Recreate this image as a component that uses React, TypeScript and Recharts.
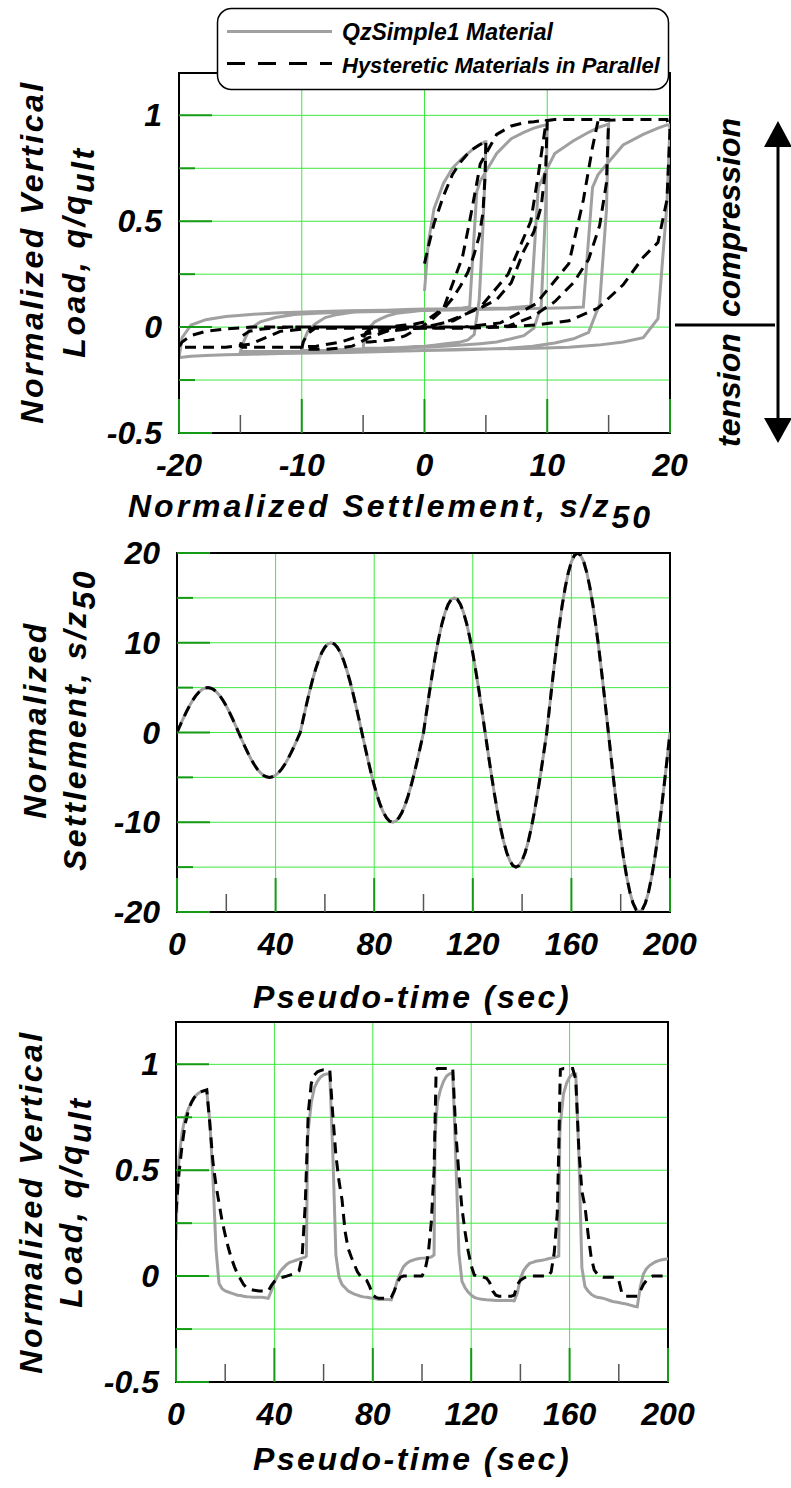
import React from 'react';
import { LineChart, Line, XAxis, YAxis, CartesianGrid, ReferenceArea } from 'recharts';

// pseudo-time (sec), one row per sample; extra samples sit on the steep jumps
const time = [
  0, 0.5, 1.25, 2.5, 3.75, 5, 6.25, 7.5, 8.75, 10, 11.25, 12.5, 13.75, 15, 16.25, 17.5, 18.75, 20, 21.25, 22.5,
  23.75, 25, 26.25, 27.5, 28.75, 30, 31.25, 32.5, 33.75, 35, 36.25, 37.5, 38.75, 40, 41.25, 42.5, 43.75, 45, 46.25, 47.5, 48.75,
  50, 51.25, 52.5, 53.0, 53.5, 53.75, 55, 56.25, 57.5, 58.75, 60, 61.25, 62.5, 63.75, 65, 66.25, 67.5, 68.75, 70, 71.25,
  72.5, 73.75, 75, 76.25, 77.5, 78.75, 80, 81.25, 82.5, 83.75, 85, 86.25, 87.5, 88.75, 90, 91.25, 92.5, 93.75, 95, 96.25, 97.5, 98.75,
  100, 101.25, 102.5, 103.75, 104.9, 105.3, 105.75, 106.25, 107.5, 108.75, 110, 111.25, 112.5, 113.75, 115, 116.25, 117.5, 118.75, 120, 121.25,
  122.5, 123.75, 125, 126.25, 127.5, 128.75, 130, 131.25, 132.5, 133.75, 135, 136.25, 137.5, 138.75, 140, 141.25, 142.5, 143.75, 145, 146.25, 147.5, 148.75,
  150, 151.25, 152.5, 153.75, 155, 155.6, 156.0, 156.25, 157.5, 158.75, 160, 161.25, 162.5, 163.75, 165, 166.25, 167.5, 168.75, 170, 171.25,
  172.5, 173.75, 175, 176.25, 177.5, 178.75, 180, 181.25, 182.5, 183.75, 185, 186.25, 187.5, 188.75, 190, 191.25, 192.5, 193.75, 195, 196.25, 197.5, 198.75, 200,
];

// normalized settlement s/z50
const settlement = [
  0, 0.31, 0.78, 1.55, 2.27, 2.94, 3.54, 4.05, 4.46, 4.76, 4.94, 5, 4.94, 4.76, 4.46, 4.05, 3.54, 2.94, 2.27, 1.55,
  0.78, 0, -0.78, -1.55, -2.27, -2.94, -3.54, -4.05, -4.46, -4.76, -4.94, -5, -4.94, -4.76, -4.46, -4.05, -3.54, -2.94, -2.27, -1.55, -0.78,
  0, 1.56, 3.09, 3.68, 4.26, 4.54, 5.88, 7.07, 8.09, 8.91, 9.51, 9.88, 10, 9.88, 9.51, 8.91, 8.09, 7.07, 5.88, 4.54,
  3.09, 1.56, 0, -1.56, -3.09, -4.54, -5.88, -7.07, -8.09, -8.91, -9.51, -9.88, -10, -9.88, -9.51, -8.91, -8.09, -7.07, -5.88, -4.54, -3.09, -1.56,
  0, 2.35, 4.64, 6.81, 8.66, 9.27, 9.92, 10.61, 12.14, 13.37, 14.27, 14.82, 15, 14.82, 14.27, 13.37, 12.14, 10.61, 8.82, 6.81,
  4.64, 2.35, 0, -2.35, -4.64, -6.81, -8.82, -10.61, -12.14, -13.37, -14.27, -14.82, -15, -14.82, -14.27, -13.37, -12.14, -10.61, -8.82, -6.81, -4.64, -2.35,
  0, 3.13, 6.18, 9.08, 11.76, 12.94, 13.69, 14.14, 16.18, 17.82, 19.02, 19.75, 20, 19.75, 19.02, 17.82, 16.18, 14.14, 11.76, 9.08,
  6.18, 3.13, 0, -3.13, -6.18, -9.08, -11.76, -14.14, -16.18, -17.82, -19.02, -19.75, -20, -19.75, -19.02, -17.82, -16.18, -14.14, -11.76, -9.08, -6.18, -3.13, 0,
];

// q/qult, QzSimple1 material
const qzLoad = [
  0.17, 0.4, 0.56, 0.68, 0.75, 0.79, 0.82, 0.845, 0.86, 0.87, 0.875, 0.875, 0.73, 0.47, 0.13, -0.035, -0.06, -0.07, -0.075, -0.08,
  -0.085, -0.09, -0.092, -0.095, -0.097, -0.098, -0.1, -0.1, -0.1, -0.1, -0.102, -0.105, -0.07, -0.03, 0, 0.025, 0.04, 0.055, 0.065, 0.07, 0.075,
  0.08, 0.085, 0.09, 0.095, 0.64, 0.69, 0.82, 0.89, 0.92, 0.94, 0.95, 0.955, 0.955, 0.58, 0.1, -0.005, -0.04, -0.055, -0.07, -0.078,
  -0.085, -0.09, -0.095, -0.098, -0.1, -0.102, -0.105, -0.107, -0.11, -0.11, -0.11, -0.11, -0.112, -0.07, -0.02, 0.015, 0.045, 0.06, 0.07, 0.075, 0.08, 0.083,
  0.085, 0.086, 0.088, 0.09, 0.1, 0.66, 0.74, 0.82, 0.88, 0.92, 0.945, 0.955, 0.96, 0.55, 0.11, -0.025, -0.055, -0.075, -0.09, -0.1,
  -0.105, -0.108, -0.11, -0.112, -0.113, -0.114, -0.115, -0.115, -0.115, -0.115, -0.115, -0.115, -0.117, -0.08, -0.01, 0.025, 0.045, 0.06, 0.065, 0.07, 0.073, 0.075,
  0.078, 0.082, 0.085, 0.088, 0.092, 0.095, 0.66, 0.72, 0.86, 0.91, 0.94, 0.955, 0.955, 0.58, 0.04, -0.05, -0.07, -0.085, -0.095, -0.1,
  -0.102, -0.105, -0.11, -0.115, -0.12, -0.122, -0.125, -0.128, -0.13, -0.134, -0.138, -0.142, -0.145, -0.05, 0.01, 0.035, 0.05, 0.06, 0.068, 0.073, 0.077, 0.08, 0.082,
];

// q/qult, hysteretic materials in parallel
const hystLoad = [
  0.3, 0.38, 0.49, 0.62, 0.72, 0.78, 0.82, 0.845, 0.86, 0.87, 0.875, 0.88, 0.72, 0.54, 0.43, 0.345, 0.26, 0.195, 0.135, 0.085,
  0.045, 0.01, -0.015, -0.04, -0.055, -0.062, -0.066, -0.068, -0.07, -0.07, -0.07, -0.07, -0.045, -0.025, -0.015, -0.008, -0.004, 0, 0.005, 0.01, 0.015,
  0.025, 0.09, 0.33, 0.5, 0.68, 0.77, 0.91, 0.95, 0.965, 0.97, 0.975, 0.975, 0.975, 0.76, 0.57, 0.45, 0.36, 0.21, 0.13, 0.09,
  0.055, 0.02, 0, -0.01, -0.02, -0.05, -0.09, -0.1, -0.105, -0.105, -0.105, -0.105, -0.1, -0.07, -0.03, -0.005, 0, 0, 0, 0, 0, 0,
  0, 0.03, 0.1, 0.25, 0.5, 0.72, 0.975, 0.98, 0.98, 0.98, 0.98, 0.98, 0.98, 0.68, 0.48, 0.32, 0.21, 0.12, 0.05, 0.005,
  0, 0, -0.005, -0.01, -0.03, -0.07, -0.09, -0.095, -0.095, -0.095, -0.095, -0.095, -0.09, -0.04, -0.02, -0.01, -0.003, 0, 0, 0, 0, 0,
  0, 0, 0.02, 0.11, 0.3, 0.6, 0.85, 0.975, 0.98, 0.98, 0.98, 0.98, 0.93, 0.6, 0.4, 0.33, 0.2, 0.09, 0.03, 0.01,
  0, -0.005, -0.005, -0.005, -0.005, -0.005, -0.02, -0.08, -0.095, -0.095, -0.095, -0.095, -0.095, -0.07, -0.04, -0.02, -0.008, 0, 0, 0, 0, 0, 0,
];

const loadTicks = [-0.5, -0.25, 0, 0.25, 0.5, 0.75, 1];
const loadLabels = [-0.5, 0, 0.5, 1];
const loadGrid = [-0.25, 0, 0.25, 0.5, 0.75, 1];
const settleTicks = [-20, -15, -10, -5, 0, 5, 10, 15, 20];
const settleLabels = [-20, -10, 0, 10, 20];
const settleGridX = [-10, 0, 10];
const settleGridY = [-15, -10, -5, 0, 5, 10, 15];
const timeTicks = [0, 20, 40, 60, 80, 100, 120, 140, 160, 180, 200];
const timeLabels = [0, 40, 80, 120, 160, 200];
const timeGrid = [40, 80, 120, 160];

const rows = time.map((t, i) => ({ t, s: settlement[i], qz: qzLoad[i], hyst: hystLoad[i] }));

const W = 791;
const H = 1488;
const GRAY = '#a0a0a0';
const GRID = '#3fe83f';
const TICK_GREEN = '#149a14';
const FONT = '"Liberation Sans", Arial, Helvetica, sans-serif';
const tickStyle = { fontFamily: FONT, fontSize: 32, fontWeight: 700, fontStyle: 'italic' as const };
const titleStyle = { ...tickStyle, letterSpacing: 2.5 };
const legendStyle = { fontFamily: FONT, fontSize: 23, fontWeight: 700, fontStyle: 'italic' as const };

const makeXTick = (labels: number[]) => (p: any) => {
  const { x, y, payload } = p;
  const major = labels.includes(payload.value);
  return (
    <g>
      <line x1={x} x2={x} y1={y} y2={y - (major ? 34 : 18)} stroke={major ? TICK_GREEN : '#555'} strokeWidth={major ? 2 : 1.5} />
      {major ? (
        <text x={x} y={y + 43} textAnchor="middle" fill="#000" style={tickStyle}>{String(payload.value)}</text>
      ) : null}
    </g>
  );
};

const makeYTick = (labels: number[]) => (p: any) => {
  const { x, y, payload } = p;
  const major = labels.includes(payload.value);
  return (
    <g>
      <line x1={x} x2={x + (major ? 33 : 16)} y1={y} y2={y} stroke={TICK_GREEN} strokeWidth={2} />
      {major ? (
        <text x={x - 17} y={y + 11} textAnchor="end" fill="#000" style={tickStyle}>{String(payload.value)}</text>
      ) : null}
    </g>
  );
};

const LoadTitle = ({ midY, colA, colB }: any) => (
  <g fill="#000" style={titleStyle}>
    <text transform={`translate(${colA},${midY}) rotate(-90)`} textAnchor="middle">Normalized Vertical</text>
    <text transform={`translate(${colB},${midY}) rotate(-90)`} textAnchor="middle">
      Load, q/q<tspan dy={9}>ult</tspan>
    </text>
  </g>
);

const SettleYTitle = () => (
  <g fill="#000" style={titleStyle}>
    <text transform="translate(46,720) rotate(-90)" textAnchor="middle">Normalized</text>
    <text transform="translate(86,720) rotate(-90)" textAnchor="middle">
      Settlement, s/z<tspan dy={9}>50</tspan>
    </text>
  </g>
);

const SettleXTitle = () => (
  <text x={128} y={517} fill="#000" style={{ ...titleStyle, letterSpacing: 3 }}>
    Normalized Settlement, s/z<tspan dy={11}>50</tspan>
  </text>
);

const TimeTitle = ({ baseLine }: any) => (
  <text x={412} y={baseLine} textAnchor="middle" fill="#000" style={titleStyle}>Pseudo-time (sec)</text>
);

const axisLine = { stroke: '#000', strokeWidth: 2 };

function Panel(props: any) {
  const { top, bottom, left, right, xKey, xDomain, xTicks, xLabels, xGrid, yDomain, yTicks, yLabels, yGrid, lines, xTitle, yTitle } = props;
  return (
    <div style={{ position: 'absolute', left: 0, top: 0 }}>
      <LineChart width={W} height={H} data={rows} margin={{ top, right: W - right, bottom: H - bottom - 100, left: 0 }}>
        <CartesianGrid stroke={GRID} strokeWidth={1} horizontalValues={yGrid} verticalValues={xGrid} />
        <XAxis
          dataKey={xKey}
          type="number"
          domain={xDomain}
          ticks={xTicks}
          interval={0}
          allowDataOverflow
          height={100}
          tickSize={0}
          tickMargin={0}
          tickLine={false}
          axisLine={axisLine}
          tick={makeXTick(xLabels)}
          label={xTitle}
        />
        <YAxis
          type="number"
          domain={yDomain}
          ticks={yTicks}
          interval={0}
          allowDataOverflow
          width={left}
          tickSize={0}
          tickMargin={0}
          tickLine={false}
          axisLine={axisLine}
          tick={makeYTick(yLabels)}
          label={yTitle}
        />
        <ReferenceArea x1={xDomain[0]} x2={xDomain[1]} y1={yDomain[0]} y2={yDomain[1]} fill="none" stroke="#000" strokeWidth={2} />
        {lines.map((l: any, i: number) => (
          <Line
            key={i}
            name={l.name}
            dataKey={l.key}
            type="linear"
            stroke={l.color}
            strokeWidth={3}
            strokeDasharray={l.dash}
            dot={false}
            activeDot={false}
            isAnimationActive={false}
          />
        ))}
      </LineChart>
    </div>
  );
}

const qzSeries = { name: 'QzSimple1 Material', color: GRAY };
const hystSeries = { name: 'Hysteretic Materials in Parallel', color: '#000', dash: '11 7' };

export default function App() {
  return (
    <div style={{ position: 'absolute', left: 0, top: 0, width: W, height: H, background: '#fff' }}>
      <Panel
        top={73}
        bottom={433}
        left={179}
        right={670}
        xKey="s"
        xDomain={[-20, 20]}
        xTicks={settleTicks}
        xLabels={settleLabels}
        xGrid={settleGridX}
        yDomain={[-0.5, 1.2]}
        yTicks={loadTicks}
        yLabels={loadLabels}
        yGrid={loadGrid}
        lines={[{ ...qzSeries, key: 'qz' }, { ...hystSeries, key: 'hyst' }]}
        xTitle={<SettleXTitle />}
        yTitle={<LoadTitle midY={252} colA={43} colB={85} />}
      />
      <Panel
        top={553}
        bottom={912}
        left={177}
        right={670}
        xKey="t"
        xDomain={[0, 200]}
        xTicks={timeTicks}
        xLabels={timeLabels}
        xGrid={timeGrid}
        yDomain={[-20, 20]}
        yTicks={settleTicks}
        yLabels={settleLabels}
        yGrid={settleGridY}
        lines={[{ ...qzSeries, key: 's' }, { ...hystSeries, key: 's' }]}
        xTitle={<TimeTitle baseLine={1008} />}
        yTitle={<SettleYTitle />}
      />
      <Panel
        top={1022}
        bottom={1382}
        left={176}
        right={668}
        xKey="t"
        xDomain={[0, 200]}
        xTicks={timeTicks}
        xLabels={timeLabels}
        xGrid={timeGrid}
        yDomain={[-0.5, 1.2]}
        yTicks={loadTicks}
        yLabels={loadLabels}
        yGrid={loadGrid}
        lines={[{ ...qzSeries, key: 'qz' }, { ...hystSeries, key: 'hyst' }]}
        xTitle={<TimeTitle baseLine={1470} />}
        yTitle={<LoadTitle midY={1202} colA={42} colB={82} />}
      />
      <svg width={W} height={H} style={{ position: 'absolute', left: 0, top: 0, pointerEvents: 'none' }}>
        {/* legend */}
        <rect x={217.5} y={8.5} width={451} height={81} rx={14} fill="#fff" stroke="#000" strokeWidth={1.5} />
        <line x1={227} x2={332} y1={31.5} y2={31.5} stroke={GRAY} strokeWidth={3} />
        <text x={342} y={39.5} fill="#000" style={legendStyle}>{qzSeries.name}</text>
        <line x1={227} x2={332} y1={63.5} y2={63.5} stroke="#000" strokeWidth={3} strokeDasharray="18 13" />
        <text x={342} y={72.5} fill="#000" style={{ ...legendStyle, fontSize: 22 }}>{hystSeries.name}</text>
        {/* tension / compression marker */}
        <line x1={675} x2={775} y1={325} y2={325} stroke="#000" strokeWidth={3} />
        <text transform="translate(740,317) rotate(-90)" fill="#000" style={tickStyle}>compression</text>
        <text transform="translate(740,447) rotate(-90)" fill="#000" style={tickStyle}>tension</text>
        <line x1={778} x2={778} y1={140} y2={425} stroke="#000" strokeWidth={3} />
        <polygon points="778,121 764,147 792,147" fill="#000" />
        <polygon points="778,443 764,418 792,418" fill="#000" />
      </svg>
    </div>
  );
}
